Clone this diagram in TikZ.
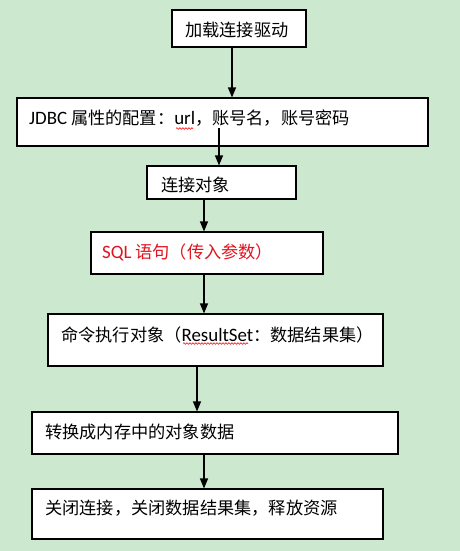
\documentclass[tikz,border=0pt]{standalone}
\usepackage{fontspec}
\setmainfont{Noto Sans CJK SC}
\newfontfamily\calib[Scale=1.1]{Carlito}
\usetikzlibrary{arrows.meta,decorations.pathmorphing}
\definecolor{bg}{RGB}{204,232,207}
\definecolor{redtxt}{RGB}{225,20,30}
\begin{document}
\begin{tikzpicture}[x=1bp,y=-1bp,
 box/.style={draw=black, line width=1.1bp, fill=white, rectangle, inner sep=0pt},
 txt/.style={anchor=west, inner sep=0pt, font=\fontsize{17.2bp}{20bp}\selectfont},
 arr/.style={line width=1.2bp, -{Triangle[length=10bp,width=8bp]}},
 squig/.style={draw=red, line width=0.6bp, decorate, decoration={snake, amplitude=0.8bp, segment length=3bp}}]
\useasboundingbox[fill=bg] (0,0) rectangle (460,551);
% boxes
\node[box, minimum width=134bp, minimum height=37bp] (b1) at (239,28.5) {};
\node[box, minimum width=411bp, minimum height=48bp] (b2) at (222.5,122) {};
\node[box, minimum width=149bp, minimum height=33bp] (b3) at (221.5,182.5) {};
\node[box, minimum width=232bp, minimum height=42bp] (b4) at (207,253) {};
\node[box, minimum width=335bp, minimum height=52bp] (b5) at (215.5,340) {};
\node[box, minimum width=366bp, minimum height=42bp] (b6) at (215,433) {};
\node[box, minimum width=351bp, minimum height=50bp] (b7) at (207.5,514) {};
% texts
\node[txt] (t1) at (185,30) {加载连接驱动};
\node[txt] (t2) at (29,118) {{\calib JDBC} 属性的配置：{\calib url}，账号名，账号密码};
\node[txt] (t3) at (161,185) {连接对象};
\node[txt, text=redtxt] (t4) at (102,252) {{\calib SQL} 语句（传入参数）};
\node[txt] (t5) at (61,335) {命令执行对象（{\calib ResultSet}：数据结果集）};
\node[txt] (t6) at (45,432) {转换成内存中的对象数据};
\node[txt] (t7) at (45,508) {关闭连接，关闭数据结果集，释放资源};
% spell-check squiggles
\draw[squig] (176,128.5) -- (193,128.5);
\draw[squig] (183,343.5) -- (248,343.5);
% arrow columns
\coordinate (x1) at (232,0);
\coordinate (s2) at (219,128);
\coordinate (x3) at (204,0);
\coordinate (x5) at (197,0);
\draw[arr] (b1.south -| x1) -- (b2.north -| x1);
\draw[arr] (s2) -- (s2 |- b3.north);
\draw[arr] (b3.south -| x3) -- (b4.north -| x3);
\draw[arr] (b4.south -| x3) -- (b5.north -| x3);
\draw[arr] (b5.south -| x5) -- (b6.north -| x5);
\draw[arr] (b6.south -| x3) -- (b7.north -| x3);
\end{tikzpicture}
\end{document}
